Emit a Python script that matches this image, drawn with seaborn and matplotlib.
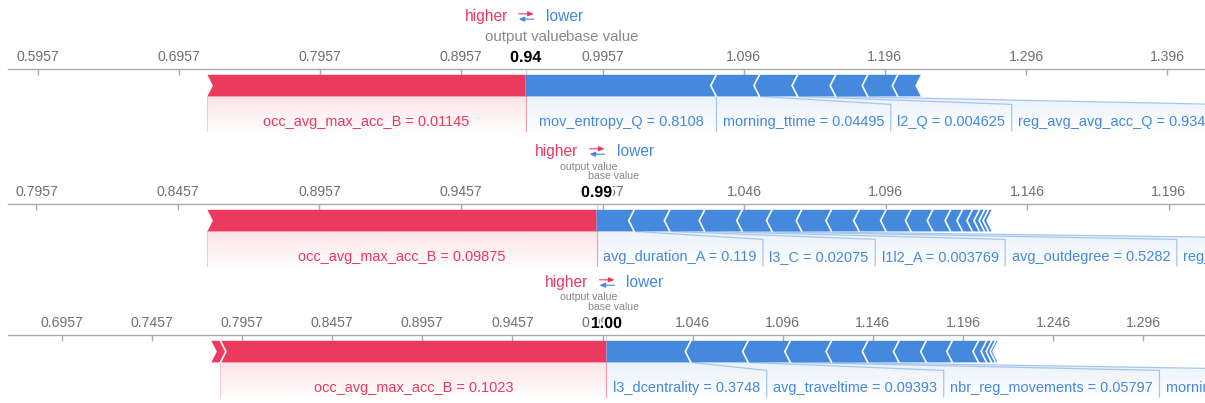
import numpy as np
import matplotlib
matplotlib.use("Agg")
import matplotlib.pyplot as plt
import matplotlib.patheffects as pe
from matplotlib.patches import Polygon
from matplotlib.colors import to_rgb
import seaborn as sns

# ---------------------------------------------------------------- data
BASE_VALUE = 0.9957

# sample 1: features pushing the prediction higher (red) and lower (blue),
# ordered from the output value outwards
s1_pos_labels = ["occ_avg_max_acc_B = 0.01145"]
s1_pos_effects = [0.2255]
s1_neg_labels = ["mov_entropy_Q = 0.8108", "morning_ttime = 0.04495", "l2_Q = 0.004625",
                 "reg_avg_avg_acc_Q = 0.9342", None, None, None]
s1_neg_effects = [0.1350, 0.0306, 0.0270, 0.0270, 0.0227, 0.0213, 0.0163]

# sample 2
s2_pos_labels = ["occ_avg_max_acc_B = 0.09875"]
s2_pos_effects = [0.1375]
s2_neg_labels = ["avg_duration_A = 0.119", "l3_C = 0.02075", "l1l2_A = 0.003769",
                 "avg_outdegree = 0.5282", "reg_avg_avg_acc_Q = 0.9318",
                 None, None, None, None, None, None, None, None, None, None, None, None, None]
s2_neg_effects = [0.0133, 0.0126, 0.0123, 0.0133, 0.0105, 0.0105, 0.0105, 0.0098, 0.0095,
                  0.0088, 0.0077, 0.0063, 0.0042, 0.0035, 0.0025, 0.0018, 0.0014, 0.0011]

# sample 3
s3_pos_labels = ["occ_avg_max_acc_B = 0.1023", None]
s3_pos_effects = [0.2142, 0.0050]
s3_neg_labels = ["l3_dcentrality = 0.3748", "avg_traveltime = 0.09393",
                 "nbr_reg_movements = 0.05797", "morning_ttime = 0.05012",
                 None, None, None, None, None, None, None, None, None]
s3_neg_effects = [0.0468, 0.0318, 0.0234, 0.0229, 0.0201, 0.0173, 0.0151, 0.0145, 0.0145,
                  0.0045, 0.0028, 0.0022, 0.0011]

samples = [
    (s1_pos_labels, s1_pos_effects, s1_neg_labels, s1_neg_effects),
    (s2_pos_labels, s2_pos_effects, s2_neg_labels, s2_neg_effects),
    (s3_pos_labels, s3_pos_effects, s3_neg_labels, s3_neg_effects),
]

# ---------------------------------------------------------------- style
sns.set_theme(style="white")
plt.rcParams["font.family"] = ["Liberation Sans", "DejaVu Sans"]

RED = "#EC3A5E"
BLUE = "#4589DF"
RED_LINE = "#F3A1B4"
BLUE_LINE = "#A6C6EE"
AXIS_GRAY = "#A9A9A9"
TICK_GRAY = "#707070"
TITLE_GRAY = "#888888"

W_PX, H_PX, DPI = 1205, 403, 100
PT = 72.0 / DPI                     # points per pixel
PANEL_TOPS = [0, 135, 266]
PANEL_H = 135
SPAN_FACTOR = 1.525

# vertical layout inside a panel (pixels from its top)
Y_HIGHER = 21
Y_ARROW_TOP, Y_ARROW_BOT = 13.8, 19.2
Y_TITLE = 41
Y_TITLE_OUT, Y_TITLE_BASE = 34.5, 44
Y_OUT_VALUE = 62
Y_AXIS = 69
AXIS_INSET = 8
BAR_TOP, BAR_BOT = 74.8, 96.4
Y_LABEL = 126
BEND = 8
LINE_END = 131
SHADE_END = 135

CHEVRON = 5.5
LABEL_PAD = 6.5

FS_TICK = 14 * PT
FS_LABEL = 14.5 * PT
FS_HIGHER = 15.5 * PT
FS_TITLE = 15 * PT
FS_TITLE_SMALL = 10.5 * PT
FS_BOLD = 16 * PT


def nice_step(span, count=10):
    raw = span / count
    power = 10 ** np.floor(np.log10(raw))
    err = raw / power
    if err >= np.sqrt(50):
        mult = 10
    elif err >= np.sqrt(10):
        mult = 5
    elif err >= np.sqrt(2):
        mult = 2
    else:
        mult = 1
    return mult * power


fig = plt.figure(figsize=(W_PX / DPI, H_PX / DPI), dpi=DPI)
fig.patch.set_facecolor("white")
renderer = fig.canvas.get_renderer()


def text_px(t):
    return t.get_window_extent(renderer).width


def shade(ax, verts, color, a0):
    poly = Polygon(verts, closed=True, facecolor="none", edgecolor="none",
                   transform=ax.transData)
    ax.add_patch(poly)
    xs = [v[0] for v in verts]
    n = 80
    rgba = np.zeros((n, 1, 4))
    rgba[..., :3] = to_rgb(color)
    rgba[:, 0, 3] = np.linspace(a0, 0.0, n)
    im = ax.imshow(rgba, extent=(min(xs), max(xs), SHADE_END, BAR_BOT), origin="upper",
                   aspect="auto", interpolation="bilinear", zorder=1)
    im.set_clip_path(poly)


def draw_force(ax, pos_labels, pos_effects, neg_labels, neg_effects):
    pos = np.asarray(pos_effects, float)
    neg = np.asarray(neg_effects, float)
    out_val = BASE_VALUE + pos.sum() - neg.sum()
    half = SPAN_FACTOR * max(pos.sum(), neg.sum())
    ppu = W_PX / (2 * half)

    def px(n):
        return n / ppu

    d = px(CHEVRON)
    mid = (BAR_TOP + BAR_BOT) / 2

    # ---- axis
    step = nice_step(2 * half)
    k = np.arange(np.ceil(-half / step - 1e-9), np.floor(half / step + 1e-9) + 1)
    ticks = BASE_VALUE + k * step
    ax.set_xticks(ticks)
    ax.set_xticklabels([f"{t:.4g}" for t in ticks])
    ax.set_yticks([])
    ax.xaxis.set_ticks_position("top")
    ax.spines["top"].set_position(("data", Y_AXIS))
    ax.spines["top"].set_color(AXIS_GRAY)
    ax.spines["top"].set_linewidth(1.0)
    ax.spines["top"].set_bounds(BASE_VALUE - half + px(AXIS_INSET), BASE_VALUE + half)
    sns.despine(ax=ax, top=False, left=True, right=True, bottom=True)
    ax.tick_params(axis="x", top=True, bottom=False, labeltop=True, labelbottom=False,
                   direction="in", length=4, width=1, color=AXIS_GRAY,
                   labelcolor=TICK_GRAY, labelsize=FS_TICK, pad=5.1 * PT)
    ax.set_facecolor("none")

    # ---- red segments (pointing right)
    pe_edges = out_val - np.concatenate([[0.0], np.cumsum(pos)])
    for i in range(len(pos)):
        r, l = pe_edges[i], pe_edges[i + 1]
        tip = 0.0 if i == 0 else d
        verts = [(l, BAR_TOP), (r, BAR_TOP), (r + tip, mid), (r, BAR_BOT),
                 (l, BAR_BOT), (l + d, mid)]
        ax.add_patch(Polygon(verts, closed=True, facecolor=RED, edgecolor="none", zorder=3))
    for e in pe_edges[1:-1]:
        ax.plot([e, e + d, e], [BAR_TOP, mid, BAR_BOT], color="white", lw=1.2,
                zorder=4, solid_joinstyle="miter")

    # ---- blue segments (pointing left)
    ne_edges = out_val + np.concatenate([[0.0], np.cumsum(neg)])
    for i in range(len(neg)):
        a, b = ne_edges[i], ne_edges[i + 1]
        tip = 0.0 if i == 0 else d
        verts = [(a, BAR_TOP), (b, BAR_TOP), (b - d, mid), (b, BAR_BOT),
                 (a, BAR_BOT), (a - tip, mid)]
        ax.add_patch(Polygon(verts, closed=True, facecolor=BLUE, edgecolor="none", zorder=3))
    for e in ne_edges[1:-1]:
        ax.plot([e, e - d, e], [BAR_TOP, mid, BAR_BOT], color="white", lw=1.2,
                zorder=4, solid_joinstyle="miter")

    # ---- feature labels, red side (placed leftwards)
    box_edge = out_val
    for i, lab in enumerate(pos_labels):
        if lab is None:
            continue
        r, l = pe_edges[i], pe_edges[i + 1]
        t = ax.text(0, Y_LABEL, lab, color=RED, fontsize=FS_LABEL, ha="center",
                    va="baseline", zorder=6)
        w = px(text_px(t) + 2 * LABEL_PAD)
        box_r = box_edge
        box_l = min(l, box_r - w)
        t.set_x((box_l + box_r) / 2)
        shade(ax, [(r, BAR_BOT), (box_r, BAR_BOT + BEND), (box_r, SHADE_END),
                   (box_l, SHADE_END), (box_l, BAR_BOT + BEND), (l, BAR_BOT)], RED, 0.14)
        ax.plot([l, box_l, box_l], [BAR_BOT, BAR_BOT + BEND, LINE_END],
                color=RED_LINE, lw=0.8, alpha=0.5, zorder=2)
        if i == 0:
            ax.plot([out_val, out_val], [BAR_BOT, LINE_END], color=RED_LINE, lw=0.9, zorder=2)
        box_edge = box_l

    # ---- feature labels, blue side (placed rightwards)
    box_edge = out_val
    for i, lab in enumerate(neg_labels):
        if lab is None:
            continue
        a, b = ne_edges[i], ne_edges[i + 1]
        t = ax.text(0, Y_LABEL, lab, color=BLUE, fontsize=FS_LABEL, ha="center",
                    va="baseline", zorder=6)
        w = px(text_px(t) + 2 * LABEL_PAD)
        box_l = box_edge
        box_r = max(b, box_l + w)
        t.set_x((box_l + box_r) / 2)
        shade(ax, [(a, BAR_BOT), (box_l, BAR_BOT + BEND), (box_l, SHADE_END),
                   (box_r, SHADE_END), (box_r, BAR_BOT + BEND), (b, BAR_BOT)], BLUE, 0.11)
        ax.plot([b, box_r, box_r], [BAR_BOT, BAR_BOT + BEND, LINE_END],
                color=BLUE_LINE, lw=0.9, zorder=2)
        box_edge = box_r

    # ---- join point marker
    ax.plot([out_val, out_val], [Y_AXIS, BAR_TOP], color="#D0D0D0", lw=0.8, zorder=2)

    # ---- higher / lower legend
    ax.text(out_val - px(18), Y_HIGHER, "higher", color=RED, fontsize=FS_HIGHER,
            ha="right", va="baseline")
    ax.text(out_val + px(20), Y_HIGHER, "lower", color=BLUE, fontsize=FS_HIGHER,
            ha="left", va="baseline")
    arrow = dict(arrowstyle="-|>,head_length=0.28,head_width=0.12", lw=0.8,
                 shrinkA=0, shrinkB=0)
    ax.annotate("", xy=(out_val + px(8), Y_ARROW_TOP), xytext=(out_val - px(7), Y_ARROW_TOP),
                arrowprops=dict(arrow, color=RED))
    ax.annotate("", xy=(out_val - px(7), Y_ARROW_BOT), xytext=(out_val + px(8), Y_ARROW_BOT),
                arrowprops=dict(arrow, color=BLUE))

    # ---- output value / base value titles (staggered and smaller when crowded)
    t_out = ax.text(out_val, Y_TITLE, "output value", color=TITLE_GRAY, fontsize=FS_TITLE,
                    ha="center", va="baseline")
    t_base = ax.text(BASE_VALUE, Y_TITLE, "base value", color=TITLE_GRAY, fontsize=FS_TITLE,
                     ha="center", va="baseline")
    if abs(out_val - BASE_VALUE) * ppu < text_px(t_out) / 2:
        t_out.set_fontsize(FS_TITLE_SMALL)
        t_out.set_ha("right")
        t_out.set_position((BASE_VALUE + px(14.5), Y_TITLE_OUT))
        t_base.set_fontsize(FS_TITLE_SMALL)
        t_base.set_ha("left")
        t_base.set_position((BASE_VALUE - px(14.5), Y_TITLE_BASE))

    ax.text(out_val, Y_OUT_VALUE, f"{out_val:.2f}", color="black", fontsize=FS_BOLD,
            fontweight="bold", ha="center", va="baseline", zorder=8,
            path_effects=[pe.withStroke(linewidth=3, foreground="white")])

    ax.set_xlim(BASE_VALUE - half, BASE_VALUE + half)
    ax.set_ylim(PANEL_H, 0)


for top, sample in zip(PANEL_TOPS, samples):
    ax = fig.add_axes([0, 1 - (top + PANEL_H) / H_PX, 1, PANEL_H / H_PX])
    draw_force(ax, *sample)

fig.savefig("out.png", dpi=DPI, facecolor="white")
